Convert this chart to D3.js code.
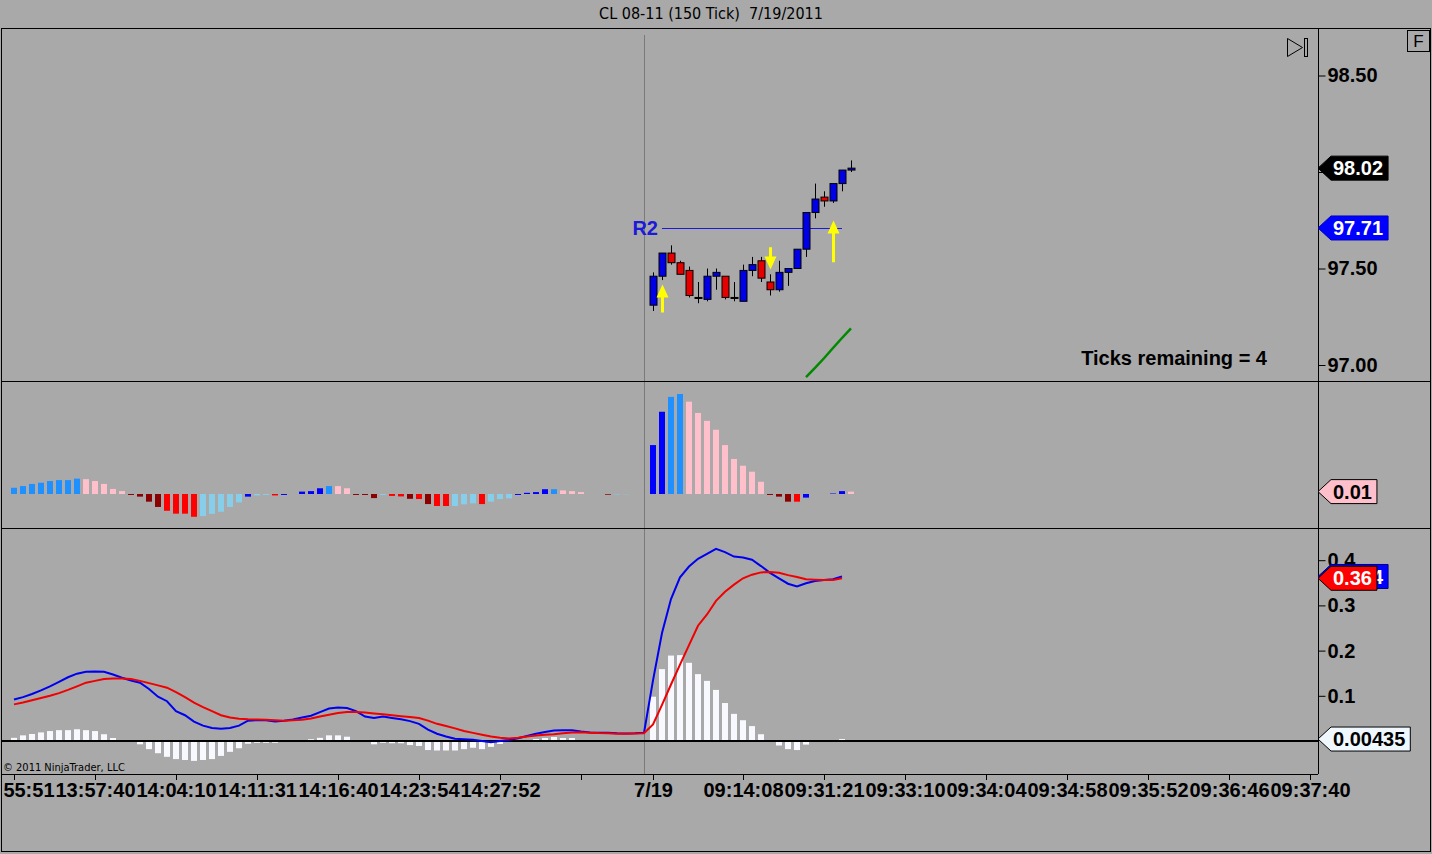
<!DOCTYPE html>
<html>
<head>
<meta charset="utf-8">
<script src="https://cdn.jsdelivr.net/npm/d3@7"></script>
<style>
  html, body { margin: 0; padding: 0; background: #a9a9a9; overflow: hidden; }
  svg { display: block; }
  .lbl { font-family: "Liberation Sans", Arial, sans-serif; font-weight: bold; font-size: 20px; }
  .narrow { font-family: "Liberation Sans Narrow", "Arial Narrow", "DejaVu Sans Condensed", sans-serif; }
</style>
</head>
<body>
<script>

// ---- data ----

// candles of the 7/19 session, first one sits on bar 71
var candleStart = 71;
var opens  = [97.31, 97.46, 97.58, 97.53, 97.49, 97.35, 97.34, 97.46, 97.46, 97.35, 97.33, 97.49,
              97.54, 97.43, 97.39, 97.48, 97.50, 97.60, 97.79, 97.87, 97.85, 97.94, 98.01];
var highs  = [97.48, 97.58, 97.62, 97.54, 97.51, 97.43, 97.50, 97.50, 97.46, 97.43, 97.52, 97.56,
              97.56, 97.47, 97.54, 97.50, 97.60, 97.79, 97.94, 97.90, 97.94, 98.01, 98.06];
var lows   = [97.28, 97.44, 97.52, 97.47, 97.35, 97.32, 97.33, 97.39, 97.34, 97.33, 97.33, 97.46,
              97.43, 97.36, 97.38, 97.41, 97.50, 97.56, 97.76, 97.82, 97.84, 97.90, 98.00];
var closes = [97.46, 97.58, 97.53, 97.47, 97.36, 97.35, 97.46, 97.48, 97.35, 97.35, 97.49, 97.52,
              97.45, 97.39, 97.48, 97.50, 97.60, 97.79, 97.86, 97.85, 97.94, 98.01, 98.02];

// green trend line (bars 88..93)
var greenStart = 88;
var greenVals = [96.937, 96.985, 97.035, 97.088, 97.14, 97.19];

// R2 pivot
var r2Level = 97.71, r2From = 72, r2To = 92;

// yellow arrows: bar, direction, tip price, tail price
var arrowBars  = [72, 84, 91];
var arrowDirs  = ['up', 'down', 'up'];
var arrowTips  = [97.417, 97.495, 97.749];
var arrowTails = [97.272, 97.610, 97.533];

// middle panel histogram (bars 0..93) and its colour state
var histVals = [0.026,0.033,0.042,0.047,0.054,0.058,0.058,0.064,0.062,0.054,
  0.042,0.021,0.012,-0.004,-0.011,-0.032,-0.054,-0.070,-0.082,-0.082,
  -0.095,-0.092,-0.083,-0.074,-0.054,-0.035,-0.011,-0.006,-0.004,-0.006,
  -0.004,0,0.010,0.012,0.024,0.033,0.033,0.024,-0.004,-0.004,
  -0.017,-0.004,-0.008,-0.010,-0.020,-0.021,-0.042,-0.050,-0.050,-0.050,
  -0.043,-0.039,-0.042,-0.032,-0.021,-0.018,-0.004,0.005,0.008,0.020,
  0.020,0.015,0.012,0.008,0,0,-0.003,-0.002,-0.001,0,
  0,0.204,0.343,0.405,0.417,0.385,0.338,0.305,0.268,0.204,
  0.146,0.118,0.093,0.051,-0.004,-0.011,-0.032,-0.032,-0.015,0,
  0,0.002,0.012,0.010];
var histState = ('DDDDDDDDPPPPPMMMMRRRRSSSSSBSSRBBBBBDPPMMMSRRMRMRRSSSRSSSBBBBDPPPPPMSSSS' +
                 'BBDDPPPPPPPPPMMMRBBBBBP').split('');

// MACD panel (bars 0..92)
var macdVals = [0.092,0.097,0.104,0.112,0.121,0.131,0.141,0.149,0.153,0.154,
  0.153,0.147,0.140,0.134,0.129,0.115,0.098,0.088,0.066,0.057,
  0.043,0.034,0.029,0.027,0.029,0.034,0.045,0.046,0.046,0.043,
  0.045,0.0475,0.052,0.056,0.064,0.072,0.074,0.073,0.066,0.054,
  0.051,0.054,0.051,0.048,0.044,0.038,0.025,0.016,0.010,0.005,
  0.004,0.003,0.000,-0.003,0.000,0.002,0.006,0.011,0.016,0.020,
  0.023,0.024,0.024,0.021,0.019,0.018,0.018,0.017,0.0166,0.017,
  0.018,0.134,0.239,0.314,0.362,0.386,0.403,0.414,0.425,0.418,
  0.408,0.406,0.401,0.387,0.372,0.360,0.348,0.342,0.349,0.354,
  0.356,0.358,0.364];
var avgVals = [0.081,0.085,0.090,0.095,0.100,0.106,0.113,0.121,0.129,0.133,
  0.137,0.138,0.138,0.137,0.133,0.128,0.123,0.118,0.108,0.097,
  0.085,0.075,0.066,0.057,0.052,0.049,0.048,0.0475,0.047,0.046,
  0.045,0.046,0.047,0.050,0.054,0.058,0.062,0.064,0.064,0.063,
  0.061,0.059,0.057,0.055,0.053,0.051,0.045,0.038,0.033,0.028,
  0.022,0.018,0.014,0.010,0.007,0.0055,0.007,0.010,0.012,0.014,
  0.015,0.017,0.019,0.0195,0.0185,0.0175,0.017,0.016,0.016,0.0166,
  0.017,0.0365,0.080,0.125,0.169,0.212,0.255,0.280,0.310,0.330,
  0.346,0.360,0.368,0.373,0.374,0.372,0.367,0.363,0.358,0.357,
  0.356,0.356,0.360];
var diffVals = [0.007,0.0125,0.0155,0.019,0.022,0.024,0.024,0.026,0.024,0.022,
  0.015,0.0066,0.002,-0.001,-0.0073,-0.018,-0.027,-0.035,-0.040,-0.042,
  -0.044,-0.042,-0.040,-0.033,-0.024,-0.016,-0.006,-0.004,-0.004,-0.004,
  0,0.001,0.0015,0.004,0.007,0.0125,0.0125,0.0095,0.0015,-0.002,
  -0.0073,-0.004,-0.005,-0.005,-0.009,-0.011,-0.020,-0.021,-0.021,-0.021,
  -0.018,-0.015,-0.018,-0.013,-0.0066,-0.002,0,0.002,0.0044,0.0066,
  0.0088,0.0066,0.0066,0.002,0,0,0.001,0.001,0,0,
  0,0.098,0.159,0.189,0.190,0.173,0.148,0.133,0.113,0.084,
  0.060,0.046,0.033,0.015,0.001,-0.010,-0.018,-0.020,-0.008,-0.002,
  0,0.002,0.00435];

// axes
var sessionBar = 70;
var tickBars   = [0, 9, 18, 27, 36, 45, 54, 63, 71, 81, 90, 99, 108, 117, 126, 135, 144];
var tickLabels = ['13:55:51', '13:57:40', '14:04:10', '14:11:31', '14:16:40', '14:23:54', '14:27:52', '',
                  '7/19', '09:14:08', '09:31:21', '09:33:10', '09:34:04', '09:34:58', '09:35:52',
                  '09:36:46', '09:37:40'];
var priceTicks = [97.0, 97.5, 98.0, 98.5];
var macdTicks  = [0.1, 0.2, 0.3, 0.4];

// ---- layout ----
var W = 1432, H = 854;
var leftX = 1, axisX = 1318, topY = 28, priceBottom = 381, histBottom = 528, macdBottom = 774;

var histColors = {B: '#0000ff', D: '#1e90ff', P: '#ffc0cb', M: '#8b0000', R: '#ff0000', S: '#87ceeb'};

var svg = d3.select('body').append('svg')
    .attr('width', W)
    .attr('height', H);

svg.append('rect').attr('width', W).attr('height', H).attr('fill', '#a9a9a9');

var x = d3.scaleLinear().domain([0, 144]).range([14, 1310]);
var yPrice = d3.scaleLinear().domain([97.0, 98.5]).range([365, 75.5]);
var yHist = d3.scaleLinear().domain([0, 0.417]).range([494, 394]);
var yMacd = d3.scaleLinear().domain([0, 0.4]).range([741, 560.2]);

// clip regions for each panel
var defs = svg.append('defs');
const addClip = (id, y0, y1) => {
  defs.append('clipPath').attr('id', id)
    .append('rect').attr('x', leftX).attr('y', y0).attr('width', axisX - leftX).attr('height', y1 - y0);
}
addClip('clipPrice', topY, priceBottom);
addClip('clipHist', priceBottom, histBottom);
addClip('clipMacd', histBottom, macdBottom);
defs.append('clipPath').attr('id', 'clipX')
  .append('rect').attr('x', 2).attr('y', macdBottom).attr('width', W - 4).attr('height', 40);

// title
svg.append('text')
  .attr('class', 'narrow')
  .attr('x', 711).attr('y', 13)
  .attr('text-anchor', 'middle')
  .attr('dominant-baseline', 'central')
  .attr('font-size', 16)
  .style('white-space', 'pre')
  .text('CL 08-11 (150 Tick)  7/19/2011');

// session break line
svg.append('line')
  .attr('x1', x(sessionBar) + 0.5).attr('x2', x(sessionBar) + 0.5)
  .attr('y1', 35).attr('y2', macdBottom)
  .attr('stroke', '#7a7a7a');

// ---- price panel ----
var pg = svg.append('g').attr('clip-path', 'url(#clipPrice)');

pg.append('path')
  .datum(greenVals)
  .attr('fill', 'none')
  .attr('stroke', '#008a00')
  .attr('stroke-width', 2.5)
  .attr('d', d3.line().x((d, i) => x(greenStart + i)).y(d => yPrice(d)));

pg.append('line')
  .attr('x1', x(r2From)).attr('x2', x(r2To))
  .attr('y1', Math.round(yPrice(r2Level)) + 0.5).attr('y2', Math.round(yPrice(r2Level)) + 0.5)
  .attr('stroke', '#1a1ad8');

pg.append('text')
  .attr('class', 'lbl')
  .attr('x', x(r2From) - 4).attr('y', yPrice(r2Level))
  .attr('dy', '0.36em')
  .attr('text-anchor', 'end')
  .attr('font-size', 19)
  .attr('fill', '#1a1ad8')
  .text('R2');

var candles = opens.map((o, i) => ({bar: candleStart + i, o: o, h: highs[i], l: lows[i], c: closes[i]}));

pg.selectAll('.wick')
  .data(candles)
  .enter().append('line')
    .attr('class', 'wick')
    .attr('x1', d => x(d.bar) + 0.5).attr('x2', d => x(d.bar) + 0.5)
    .attr('y1', d => yPrice(d.h)).attr('y2', d => yPrice(d.l))
    .attr('stroke', 'black');

pg.selectAll('.body')
  .data(candles)
  .enter().append('rect')
    .attr('class', 'body')
    .attr('x', d => x(d.bar) - 3)
    .attr('width', 7)
    .attr('y', d => yPrice(Math.max(d.o, d.c)))
    .attr('height', d => Math.max(1, Math.abs(yPrice(d.o) - yPrice(d.c))))
    .attr('fill', d => d.c > d.o ? '#0000e6' : (d.c < d.o ? '#e60000' : 'black'))
    .attr('stroke', 'black');

// arrows
arrowBars.forEach((b, i) => {
  var cx = x(b) + 0.5;
  var tip = yPrice(arrowTips[i]);
  var tail = yPrice(arrowTails[i]);
  var s = arrowDirs[i] == 'up' ? 1 : -1;
  var base = tip + s * 13;
  var p = d3.path();
  p.moveTo(cx, tip);
  p.lineTo(cx + 6, base);
  p.lineTo(cx + 1.5, base);
  p.lineTo(cx + 1.5, tail);
  p.lineTo(cx - 1.5, tail);
  p.lineTo(cx - 1.5, base);
  p.lineTo(cx - 6, base);
  p.closePath();
  pg.append('path').attr('d', p.toString()).attr('fill', '#ffff00');
});

svg.append('text')
  .attr('class', 'lbl')
  .attr('x', 1267).attr('y', 358)
  .attr('dy', '0.36em')
  .attr('text-anchor', 'end')
  .text('Ticks remaining = 4');

// ---- middle histogram panel ----
var hg = svg.append('g').attr('clip-path', 'url(#clipHist)');
hg.selectAll('rect')
  .data(histVals)
  .enter().append('rect')
    .attr('x', (d, i) => x(i) - 3)
    .attr('width', 6)
    .attr('y', d => Math.min(yHist(d), yHist(0)))
    .attr('height', d => Math.abs(yHist(d) - yHist(0)))
    .attr('fill', (d, i) => histColors[histState[i]]);

// ---- MACD panel ----
var mg = svg.append('g').attr('clip-path', 'url(#clipMacd)');
mg.selectAll('rect')
  .data(diffVals)
  .enter().append('rect')
    .attr('x', (d, i) => x(i) - 3)
    .attr('width', 6)
    .attr('y', d => Math.min(yMacd(d), yMacd(0)))
    .attr('height', d => Math.abs(yMacd(d) - yMacd(0)))
    .attr('fill', '#f8f8ff');

mg.append('line')
  .attr('x1', leftX).attr('x2', axisX)
  .attr('y1', yMacd(0)).attr('y2', yMacd(0))
  .attr('stroke', 'black')
  .attr('stroke-width', 2);

var macdLine = d3.line().x((d, i) => x(i)).y(d => yMacd(d));
mg.append('path').datum(macdVals)
  .attr('fill', 'none').attr('stroke', '#0000f0').attr('stroke-width', 2)
  .attr('d', macdLine);
mg.append('path').datum(avgVals)
  .attr('fill', 'none').attr('stroke', '#f00000').attr('stroke-width', 2)
  .attr('d', macdLine);

svg.append('text')
  .attr('class', 'narrow')
  .attr('x', 3).attr('y', 767)
  .attr('dominant-baseline', 'central')
  .attr('font-size', 11)
  .text('\u00a9 2011 NinjaTrader, LLC');

// ---- frame ----
svg.append('rect')
  .attr('x', 1.5).attr('y', topY + 0.5)
  .attr('width', 1429).attr('height', 823)
  .attr('fill', 'none').attr('stroke', 'black');
[priceBottom, histBottom].forEach(yy => {
  svg.append('line')
    .attr('x1', leftX).attr('x2', W - 1)
    .attr('y1', yy + 0.5).attr('y2', yy + 0.5)
    .attr('stroke', 'black');
});
svg.append('line')
  .attr('x1', axisX + 0.5).attr('x2', axisX + 0.5)
  .attr('y1', topY).attr('y2', macdBottom)
  .attr('stroke', 'black');

// ---- axes ----
const styleAxis = (g) => {
  g.select('.domain').remove();
  g.selectAll('text').attr('class', 'lbl').attr('fill', 'black').attr('font-size', null).attr('font-family', null);
  g.selectAll('line').attr('stroke', 'black');
}

// 98.00 sits under the last-price marker, so only its tick mark shows
svg.append('g')
  .attr('transform', 'translate(' + (axisX + 0.5) + ',0)')
  .call(d3.axisRight(yPrice).tickValues(priceTicks)
        .tickFormat(d => d == 98 ? '' : d.toFixed(2)).tickSize(7).tickPadding(2))
  .call(styleAxis);

svg.append('g')
  .attr('transform', 'translate(' + (axisX + 0.5) + ',0)')
  .call(d3.axisRight(yMacd).tickValues(macdTicks).tickFormat(d3.format('.1f')).tickSize(7).tickPadding(2))
  .call(styleAxis);

var xg = svg.append('g')
  .attr('clip-path', 'url(#clipX)')
  .append('g')
  .attr('transform', 'translate(0,' + macdBottom + ')')
  .call(d3.axisBottom(x).tickValues(tickBars).tickFormat((d, i) => tickLabels[i]).tickSize(6).tickPadding(3))
  .call(styleAxis);

svg.append('line')
  .attr('x1', leftX).attr('x2', axisX)
  .attr('y1', macdBottom + 0.5).attr('y2', macdBottom + 0.5)
  .attr('stroke', 'black');

// ---- value markers on the right axis ----
const marker = (y, label, fill, color, stroke) => {
  var g = svg.append('g');
  var t = g.append('text')
    .attr('class', 'lbl')
    .attr('x', axisX + 15).attr('y', y)
    .attr('dy', '0.36em')
    .attr('fill', color)
    .text(label);
  var r = axisX + 15 + t.node().getComputedTextLength() + 5;
  g.insert('path', 'text')
    .attr('d', 'M' + axisX + ',' + y + ' L' + (axisX + 13) + ',' + (y - 12) + ' L' + r + ',' + (y - 12) +
               ' L' + r + ',' + (y + 12) + ' L' + (axisX + 13) + ',' + (y + 12) + ' Z')
    .attr('fill', fill)
    .attr('stroke', stroke);
}

var lastClose = closes[closes.length - 1];
marker(yPrice(lastClose), lastClose.toFixed(2), 'black', 'white', 'black');
marker(yPrice(r2Level), r2Level.toFixed(2), '#0000ff', 'white', '#0000c0');
marker(yHist(0.01), '0.01', '#ffc0cb', 'black', 'black');
marker(yMacd(macdVals[macdVals.length - 1]), macdVals[macdVals.length - 1].toFixed(3), '#0000ff', 'white', '#000080');
marker(yMacd(avgVals[avgVals.length - 1]), avgVals[avgVals.length - 1].toFixed(2), '#ff0000', 'white', 'black');
marker(yMacd(diffVals[diffVals.length - 1]), diffVals[diffVals.length - 1].toFixed(5), '#f0f8ff', 'black', 'black');

// ---- top-right widgets ----
svg.append('path')
  .attr('d', 'M1287.5,38.5 L1302.5,47.5 L1287.5,56.5 Z')
  .attr('fill', 'none').attr('stroke', 'black');
svg.append('rect')
  .attr('x', 1304.5).attr('y', 38.5).attr('width', 3).attr('height', 18)
  .attr('fill', 'none').attr('stroke', 'black');
svg.append('rect')
  .attr('x', 1407.5).attr('y', 30.5).attr('width', 22).attr('height', 21)
  .attr('fill', 'none').attr('stroke', 'black');
svg.append('text')
  .attr('x', 1418.5).attr('y', 41)
  .attr('dy', '0.36em')
  .attr('text-anchor', 'middle')
  .attr('font-family', '"Liberation Sans", Arial, sans-serif')
  .attr('font-size', 17)
  .text('F');

</script>
</body>
</html>
